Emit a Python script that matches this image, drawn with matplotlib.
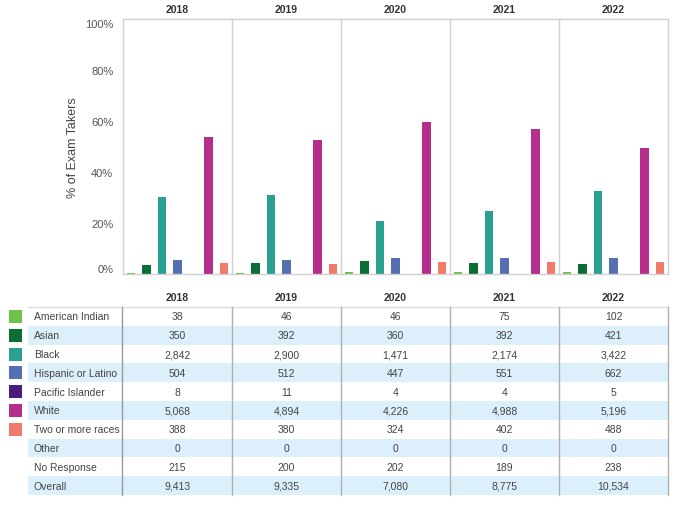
import numpy as np
import matplotlib.pyplot as plt
from matplotlib.patches import Rectangle

plt.rcParams['font.family'] = ['Liberation Sans', 'DejaVu Sans']

# Data
years = ['2018', '2019', '2020', '2021', '2022']
groups = ['American Indian', 'Asian', 'Black', 'Hispanic or Latino',
          'Pacific Islander', 'White', 'Two or more races', 'Other',
          'No Response', 'Overall']
counts = {
    'American Indian':    [38, 46, 46, 75, 102],
    'Asian':              [350, 392, 360, 392, 421],
    'Black':              [2842, 2900, 1471, 2174, 3422],
    'Hispanic or Latino': [504, 512, 447, 551, 662],
    'Pacific Islander':   [8, 11, 4, 4, 5],
    'White':              [5068, 4894, 4226, 4988, 5196],
    'Two or more races':  [388, 380, 324, 402, 488],
    'Other':              [0, 0, 0, 0, 0],
    'No Response':        [215, 200, 202, 189, 238],
    'Overall':            [9413, 9335, 7080, 8775, 10534],
}
bar_groups = groups[:7]
colors = ['#6cc24a', '#0b6e35', '#2aa090', '#5470b0', '#4a1a7c', '#b52e8c', '#f07b6b']

W, H = 681, 506
fig = plt.figure(figsize=(W / 100, H / 100), dpi=100)

# chart panels
x0, x1 = 123, 668
top, base = 20, 275
pw = (x1 - x0) / len(years)
grid = '#d0d0d0'
axes = []
for j, yr in enumerate(years):
    ax = fig.add_axes([(x0 + j * pw) / W, (H - base) / H, pw / W, (base - top) / H])
    vals = [counts[g][j] / counts['Overall'][j] for g in bar_groups]
    ax.bar(np.arange(len(bar_groups)), vals, width=0.55, color=colors)
    ax.set_xlim(-0.5, len(bar_groups) - 0.5)
    ax.set_ylim(0, 1)
    ax.set_xticks([])
    for s in ax.spines.values():
        s.set_color(grid)
        s.set_linewidth(1)
    if j < len(years) - 1:
        ax.spines['right'].set_visible(False)
    if j == 0:
        ax.set_yticks(np.linspace(0, 1, 6))
        ax.set_yticklabels([f'{int(v)}%' for v in np.linspace(0, 100, 6)],
                           fontsize=8, color='#555555')
        ax.tick_params(axis='y', length=0, pad=7)
        tl = ax.get_yticklabels()
        tl[0].set_va('bottom')
        tl[-1].set_va('top')
        ax.set_ylabel('% of Exam Takers', fontsize=9, color='#444444', labelpad=4)
    else:
        ax.set_yticks([])
    ax.set_title(yr, fontsize=7.5, fontweight='bold', color='#333333', pad=5)
    axes.append(ax)

# table below, drawn in pixel coordinates
tab = fig.add_axes([0, 0, 1, 1])
tab.set_xlim(0, W)
tab.set_ylim(H, 0)
tab.axis('off')
tab.set_zorder(-1)

row_top, row_h = 308, 18.8
lab_x0 = 28
for i, g in enumerate(groups):
    yc = row_top + row_h * (i + 0.5)
    if i % 2 == 1:
        tab.add_patch(Rectangle((lab_x0, row_top + row_h * i), x1 - lab_x0, row_h,
                                facecolor='#dcf0fb', edgecolor='none'))
    if i < len(colors):
        tab.add_patch(Rectangle((9, yc - 6.5), 13, 13, facecolor=colors[i], edgecolor='none'))
    tab.text(34, yc, g, fontsize=7.5, color='#444444', va='center', ha='left')
    for j in range(len(years)):
        tab.text(x0 + pw * (j + 0.5), yc, f'{counts[g][j]:,}', fontsize=7.5,
                 color='#444444', va='center', ha='center')

for j, yr in enumerate(years):
    tab.text(x0 + pw * (j + 0.5), 298, yr, fontsize=7.5, fontweight='bold',
             color='#333333', va='center', ha='center')

row_bot = row_top + row_h * len(groups)
tab.plot([lab_x0, x1], [row_top, row_top], color='#dddddd', lw=1)
tab.plot([x0 - 1, x0 - 1], [row_top, row_bot], color='#999999', lw=1)
for j in range(1, len(years) + 1):
    xx = x0 + pw * j
    tab.plot([xx, xx], [row_top, row_bot], color='#b0b0b0', lw=1)

fig.savefig('out.png', dpi=100)
